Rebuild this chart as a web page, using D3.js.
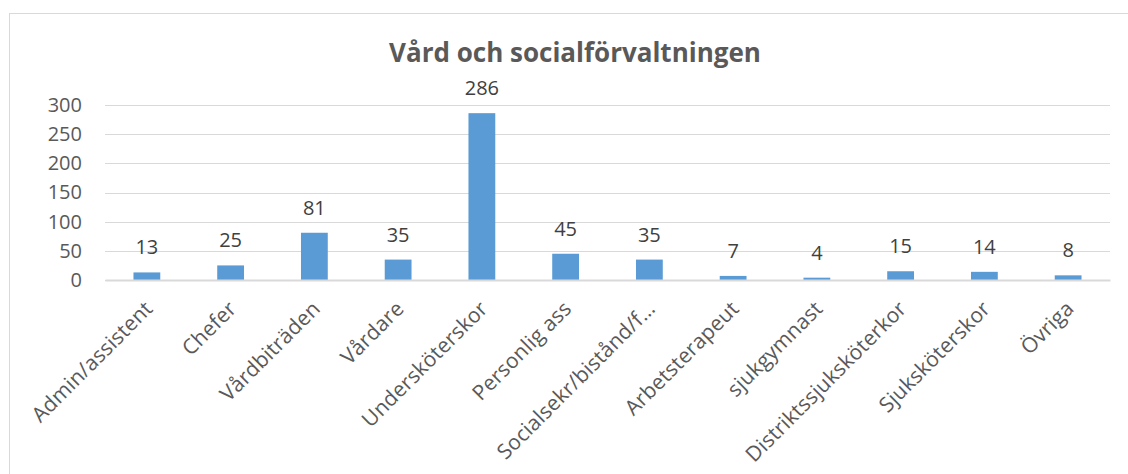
<!DOCTYPE html>
<html>
<head>
<meta charset="utf-8">
<script src="https://cdn.jsdelivr.net/npm/d3@7"></script>
<style>
  body{margin:0;background:#fff;}
  svg{display:block;font-family:"Open Sans",sans-serif;}
</style>
</head>
<body>
<svg id="chart" width="1128" height="474"></svg>
<script>
/* data */
var categories=['Admin/assistent','Chefer','Vårdbiträden','Vårdare','Undersköterskor','Personlig ass',
  'Socialsekr/bistånd/f…','Arbetsterapeut','sjukgymnast','Distriktssjuksköterkor','Sjuksköterskor','Övriga'];
var values=[13,25,81,35,286,45,35,7,4,15,14,8];
var yTicks=[0,50,100,150,200,250,300];
var title='Vård och socialförvaltningen';

var svg=d3.select('#chart');
var W=1128,H=474;
var ML=105,MR=18,MT=105,MB=194;

// outer frame
svg.append('rect').attr('x',9.5).attr('y',13.5).attr('width',W).attr('height',H)
  .attr('fill','#fff').attr('stroke','#d9d9d9').attr('stroke-width',1);

var x=d3.scaleBand().domain(categories).range([ML,W-MR]).paddingInner(0.68).paddingOuter(0.34);
var y=d3.scaleLinear().domain([0,300]).range([H-MB,MT]);

// gridlines
svg.append('g').selectAll('line').data(yTicks).join('line')
  .attr('x1',ML).attr('x2',W-MR)
  .attr('y1',function(d){return Math.round(y(d))+0.5;}).attr('y2',function(d){return Math.round(y(d))+0.5;})
  .attr('stroke','#d9d9d9').attr('stroke-width',1);

// y axis labels
var yAxis=d3.axisLeft(y).tickValues(yTicks).tickSize(0).tickPadding(0);
var gy=svg.append('g').attr('transform','translate(82,0)').call(yAxis);
gy.select('.domain').remove();
gy.selectAll('text').attr('font-size','20px').attr('fill','#595959').attr('font-family','"Open Sans",sans-serif');

// bars
svg.append('g').selectAll('rect').data(values).join('rect')
  .attr('x',function(d,i){return x(categories[i]);})
  .attr('width',x.bandwidth())
  .attr('y',function(d){return y(d);})
  .attr('height',function(d){return y(0)-y(d);})
  .attr('fill','#5b9bd5');

// value labels
svg.append('g').selectAll('text').data(values).join('text')
  .attr('x',function(d,i){return x(categories[i])+x.bandwidth()/2;})
  .attr('y',function(d){return y(d)-18;})
  .attr('text-anchor','middle')
  .attr('font-size','20px').attr('fill','#404040')
  .text(function(d){return d;});

// x axis
var xAxis=d3.axisBottom(x).tickSize(0).tickPadding(0);
var gx=svg.append('g').attr('transform','translate(0,'+y(0)+')').call(xAxis);
gx.select('.domain').attr('stroke','#d9d9d9').attr('stroke-width',2);
gx.selectAll('text')
  .attr('font-size','21px').attr('fill','#595959').attr('font-family','"Open Sans",sans-serif')
  .attr('letter-spacing','0.15px')
  .attr('text-anchor','end').attr('dy',null)
  .attr('transform','translate(7,30) rotate(-45)');

// title
svg.append('text').attr('x',575).attr('y',62).attr('text-anchor','middle')
  .attr('font-size','26px').attr('font-weight','bold').attr('fill','#595959')
  .text(title);
</script>
</body>
</html>
